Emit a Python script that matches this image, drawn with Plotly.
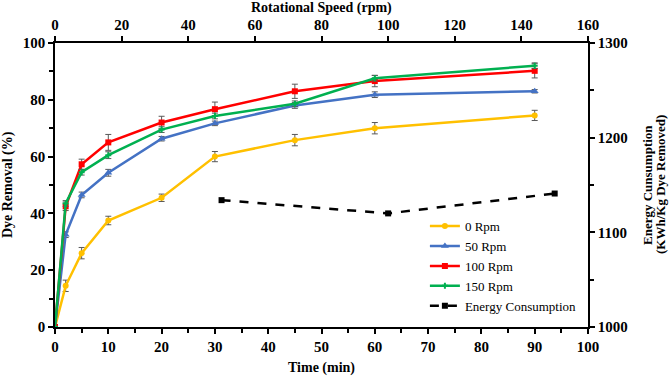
import plotly.graph_objects as go

time_min = [0, 2, 5, 10, 20, 30, 45, 60, 90]
rpm0 = [0, 14.5, 26, 37.5, 45.5, 60, 65.8, 70, 74.5]
rpm50 = [0, 32.5, 46.5, 54.3, 66.3, 71.7, 78, 81.8, 83]
rpm100 = [0, 42.5, 57.3, 65, 72, 76.7, 83, 86.6, 90.2]
rpm150 = [0, 43.5, 54.5, 60.5, 69.5, 74.3, 78.6, 87.6, 92]
err0 = [0, 2, 2, 1.5, 1.3, 1.8, 2, 2, 1.8]
err50 = [0, 1, 1, 1.2, 0.8, 0.8, 1, 1, 0.6]
err100 = [0, 1.5, 1.8, 2.8, 2.2, 2.5, 2.5, 2, 2.5]
err150 = [0, 1, 1, 1.2, 1, 1, 1, 1, 1]

speed_rpm = [50, 100, 150]
energy = [1134, 1120, 1141]

series = [
    ("0 Rpm", rpm0, err0, "#FFC000", "circle", 6),
    ("50 Rpm", rpm50, err50, "#4472C4", "triangle-up", 7),
    ("100 Rpm", rpm100, err100, "#FF0000", "square", 6),
    ("150 Rpm", rpm150, err150, "#00B050", "cross", 5),
]

font = "Liberation Serif, Times New Roman, serif"
fig = go.Figure()
for name, vals, errs, col, sym, sz in series:
    fig.add_trace(go.Scatter(
        x=time_min, y=vals, name=name, mode="lines+markers",
        line=dict(color=col, width=2.5),
        marker=dict(symbol=sym, size=sz, color=col),
        error_y=dict(type="data", array=errs, visible=True, color="#595959", thickness=1, width=3),
        xaxis="x", yaxis="y",
    ))

fig.add_trace(go.Scatter(
    x=speed_rpm, y=energy, name="Energy Consumption", mode="lines+markers",
    line=dict(color="black", width=2.5, dash="dash"),
    marker=dict(symbol="square", size=6, color="black"),
    xaxis="x2", yaxis="y2",
))

axis_common = dict(
    showline=True, linecolor="black", linewidth=1.5, showgrid=False, zeroline=False,
    ticks="outside", ticklen=5, tickcolor="black", tickwidth=1.5, automargin=False,
    tickfont=dict(family=font, size=15, color="black", weight="bold"),
)

title_font = dict(family=font, size=14, color="black")
right_font = dict(family=font, size=13, color="black")

fig.update_layout(
    width=669, height=376,
    margin=dict(l=55, r=81, t=43, b=49),
    paper_bgcolor="white", plot_bgcolor="white",
    font=dict(family=font, color="black"),
    showlegend=True,
    legend=dict(x=0.694, y=0.408, xanchor="left", yanchor="top",
                font=dict(family=font, size=13, color="black"),
                bgcolor="rgba(0,0,0,0)", tracegroupgap=0),
    xaxis=dict(range=[0, 100], dtick=10,
               minor=dict(dtick=5, ticks="outside", ticklen=4, tickcolor="black"),
               **axis_common),
    yaxis=dict(range=[0, 100], dtick=20,
               minor=dict(dtick=10, ticks="outside", ticklen=4, tickcolor="black"),
               **axis_common),
    xaxis2=dict(range=[0, 160], dtick=20, overlaying="x", side="top",
                **axis_common),
    yaxis2=dict(range=[1000, 1300], dtick=100, overlaying="y", side="right",
                minor=dict(dtick=50, ticks="outside", ticklen=4, tickcolor="black"),
                **axis_common),
    annotations=[
        dict(text="<b>Time (min)</b>", xref="paper", yref="paper", x=0.5, y=-0.144,
             xanchor="center", yanchor="middle", showarrow=False, font=title_font),
        dict(text="<b>Rotational Speed (rpm)</b>", xref="paper", yref="paper", x=0.5, y=1.123,
             xanchor="center", yanchor="middle", showarrow=False, font=title_font),
        dict(text="<b>Dye Removal (%)</b>", xref="paper", yref="paper", x=-0.088, y=0.5,
             xanchor="center", yanchor="middle", textangle=-90, showarrow=False, font=title_font),
        dict(text="<b>Energy Cunsumption</b>", xref="paper", yref="paper",
             x=1.1107, y=0.5, xanchor="center", yanchor="middle", textangle=-90,
             showarrow=False, font=right_font),
        dict(text="<b>(KWh/Kg Dye Removed)</b>", xref="paper", yref="paper",
             x=1.1351, y=0.5, xanchor="center", yanchor="middle", textangle=-90,
             showarrow=False, font=right_font),
    ],
)

fig.write_html("out.html", config={"displayModeBar": False},
               post_script="document.body.style.margin='0';document.body.style.overflow='hidden';")
